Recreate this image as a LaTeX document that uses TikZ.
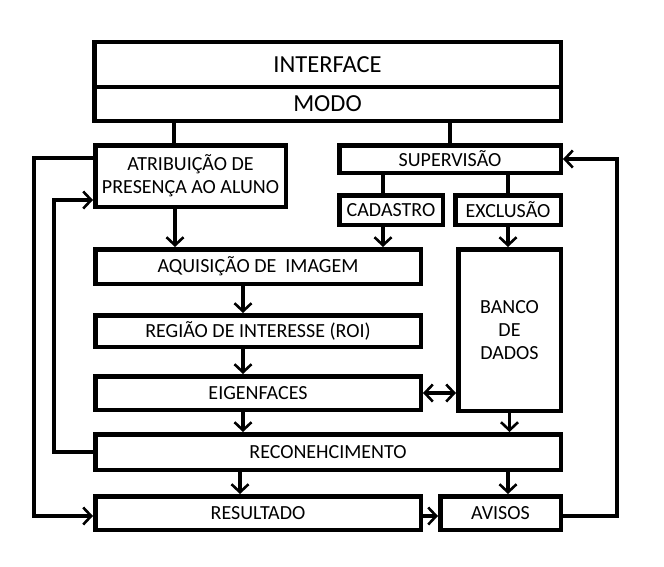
\documentclass[tikz,border=0pt]{standalone}
\usepackage{fontspec}
\setmainfont{Carlito}
\usetikzlibrary{arrows.meta}

\begin{document}
\begin{tikzpicture}[x=1pt,y=-1pt,
  block/.style={draw,line width=4.5pt,inner sep=0pt,align=center,font=\fontsize{20}{23}\selectfont},
  title block/.style={block,font=\fontsize{24.5}{28}\selectfont},
  stem/.style={line width=4.5pt},
  flow/.style={line width=3.2pt,-{Straight Barb[length=8pt,width=17pt,line width=2.6pt]}},
  both flow/.style={line width=3.2pt,{Straight Barb[length=8pt,width=17pt,line width=2.6pt]}-{Straight Barb[length=8pt,width=17pt,line width=2.6pt]}}]
\useasboundingbox (0,0) rectangle (664,566);

\node[title block,minimum width=466.5pt,minimum height=45pt] at (327.5,64.5) (interface) {INTERFACE};
\node[title block,minimum width=466.5pt,minimum height=34pt] at (327.5,104) (modo) {MODO};
\node[block,minimum width=190.5pt,minimum height=61.5pt] at (190.5,176) (atrib) {ATRIBUIÇÃO DE\\PRESENÇA AO ALUNO};
\node[block,minimum width=221.5pt,minimum height=27.5pt] at (450,159) (superv) {SUPERVISÃO};
\node[block,minimum width=103.5pt,minimum height=29.5pt] at (391,210) (cad) {CADASTRO};
\node[block,minimum width=105.5pt,minimum height=29.5pt] at (508,210) (excl) {EXCLUSÃO};
\node[block,minimum width=325.5pt,minimum height=34.5pt] at (258,266.5) (aq) {AQUISIÇÃO DE\ \ IMAGEM};
\node[block,minimum width=325.5pt,minimum height=31.5pt] at (258,331) (roi) {REGIÃO DE INTERESSE (ROI)};
\node[block,minimum width=325.5pt,minimum height=33.5pt] at (258,393) (eig) {EIGENFACES};
\node[block,minimum width=102.5pt,minimum height=161.5pt] at (509.5,330) (banco) {BANCO\\DE\\DADOS};
\node[block,minimum width=465.5pt,minimum height=35.5pt] at (328,452) (rec) {RECONEHCIMENTO};
\node[block,minimum width=325.5pt,minimum height=33.5pt] at (258,513) (res) {RESULTADO};
\node[block,minimum width=120.5pt,minimum height=33.5pt] at (500.5,513) (avisos) {AVISOS};

\coordinate (outer) at (34,0);
\coordinate (inner) at (54,0);
\coordinate (right) at (617,0);

% stems from MODO and SUPERVISAO
\draw[stem] ([xshift=-16.5pt]atrib.north) -- ([xshift=-16.5pt]atrib.north |- modo.south);
\draw[stem] (superv.north) -- (superv.north |- modo.south);
\draw[stem] ([xshift=-8pt]cad.north) -- ([xshift=-8pt]cad.north |- superv.south);
\draw[stem] (excl.north) -- (excl.north |- superv.south);

% main flow
\draw[flow] ([xshift=-15.5pt]atrib.south) -- ([xshift=-15.5pt]atrib.south |- aq.north);
\draw[flow] ([xshift=-8pt]cad.south) -- ([xshift=-8pt]cad.south |- aq.north);
\draw[flow] (excl.south) -- (excl.south |- banco.north);
\draw[flow] ([xshift=-15pt]aq.south) -- ([xshift=-15pt]roi.north);
\draw[flow] ([xshift=-15pt]roi.south) -- ([xshift=-15pt]eig.north);
\draw[flow] ([xshift=-15pt]eig.south) -- ([xshift=-15pt]eig.south |- rec.north);
\draw[both flow] (eig.east) -- (eig.east -| banco.west);
\draw[flow] (banco.south) -- (banco.south |- rec.north);
\draw[flow] ([xshift=-18pt]res.north |- rec.south) -- ([xshift=-18pt]res.north);
\draw[flow] ([xshift=7.5pt]avisos.north |- rec.south) -- ([xshift=7.5pt]avisos.north);
\draw[flow] ([yshift=-3pt]res.east) -- ([yshift=-3pt]res.east -| avisos.west);

% feedback loops
\draw[flow] ([yshift=18pt]atrib.west) -- ([yshift=18pt]atrib.west -| outer) -- ([yshift=-3pt]res.west -| outer) -- ([yshift=-3pt]res.west);
\draw[flow] (rec.west) -- (rec.west -| inner) -- ([yshift=-24pt]atrib.west -| inner) -- ([yshift=-24pt]atrib.west);
\draw[flow] ([yshift=-3pt]avisos.east) -- ([yshift=-3pt]avisos.east -| right) -- (superv.east -| right) -- (superv.east);
\end{tikzpicture}
\end{document}
